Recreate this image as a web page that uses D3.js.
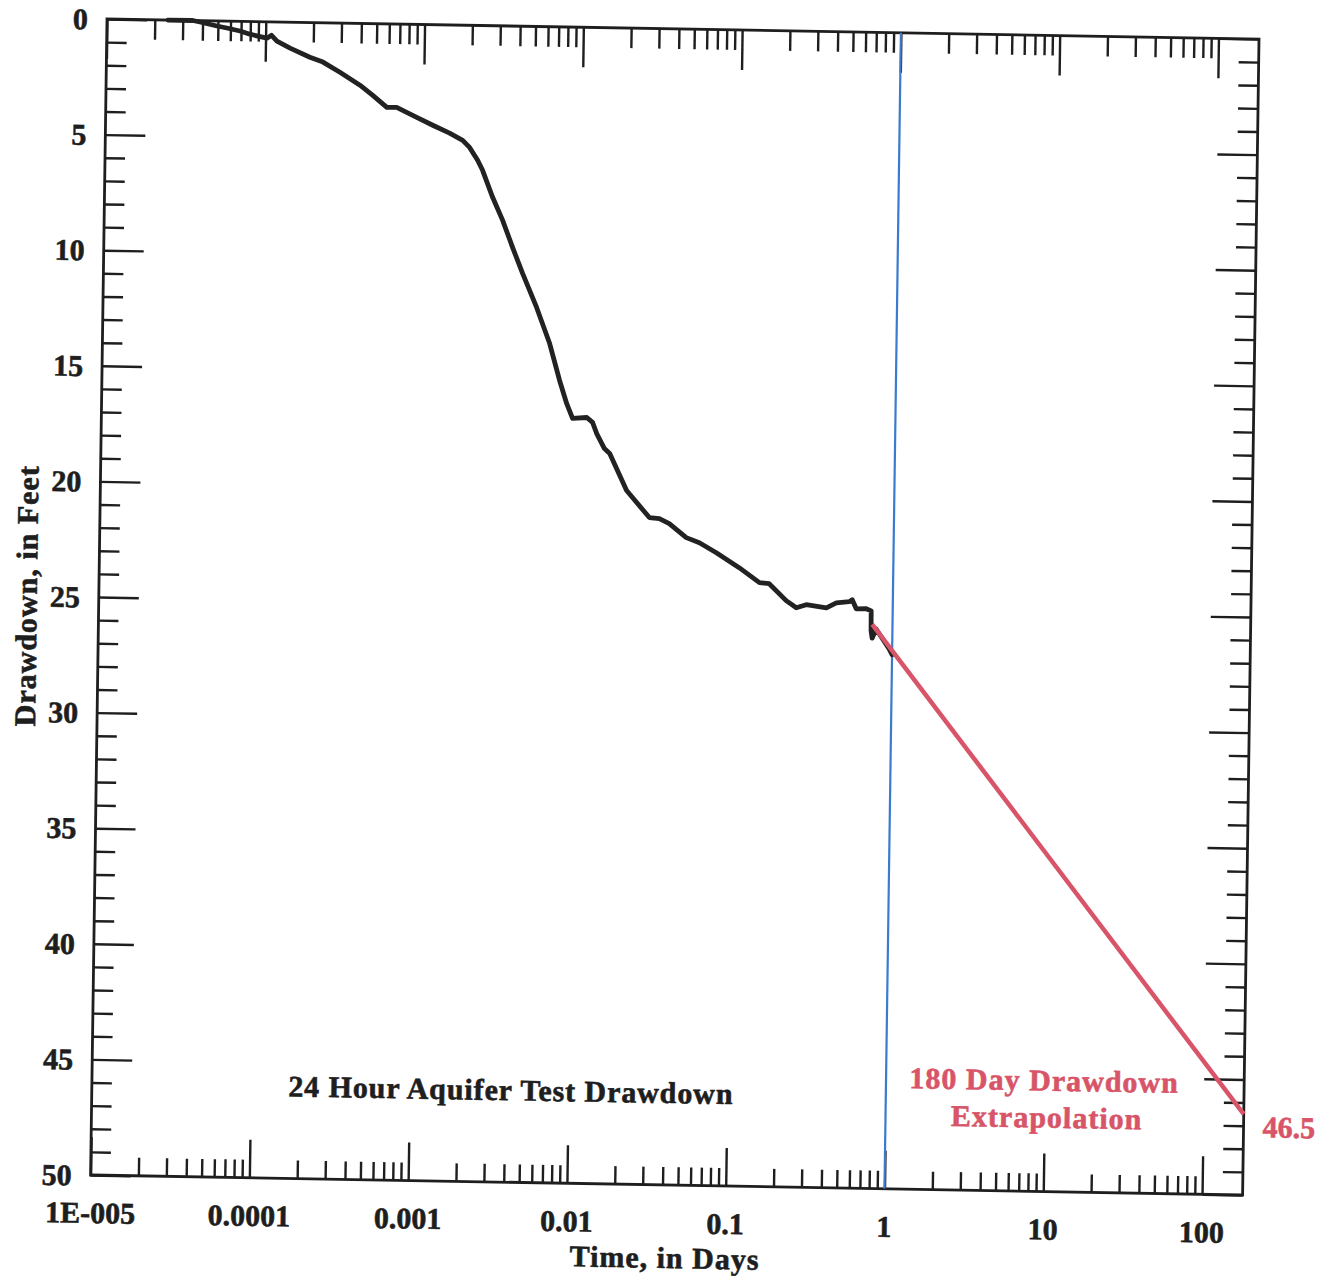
<!DOCTYPE html>
<html><head><meta charset="utf-8">
<script src="https://cdn.jsdelivr.net/npm/d3@7"></script>
<style>
body{margin:0;background:#fff}
text{font-family:"Liberation Serif","Times New Roman",serif;font-weight:bold}
</style>
</head><body>
<svg id="c" width="1330" height="1279"></svg>
<script>
// ---- data ----
const timeDays = [2.42e-5, 3.47e-5, 3.85e-5, 4.93e-5, 5.69e-5, 6.89e-5, 7.96e-5, 1.02e-4, 1.09e-4, 1.18e-4,
  1.43e-4, 1.91e-4, 2.31e-4, 2.96e-4, 3.97e-4, 4.79e-4, 5.89e-4, 6.79e-4, 9.1e-4, 1.15e-3,
  1.47e-3, 1.78e-3, 1.97e-3, 2.22e-3, 2.39e-3, 2.78e-3, 3.23e-3, 3.75e-3, 4.36e-3, 5.38e-3,
  6.55e-3, 7.62e-3, 8.48e-3, 9.27e-3, 1.14e-2, 1.24e-2, 1.32e-2, 1.48e-2, 1.60e-2, 2.06e-2,
  2.88e-2, 3.33e-2, 3.85e-2, 4.94e-2, 5.98e-2, 7.66e-2, 0.107, 0.144, 0.166, 0.213,
  0.247, 0.285, 0.382, 0.441, 0.532, 0.555, 0.589, 0.681, 0.732, 0.734,
  0.746, 0.789, 0.957, 1.0];
const drawdownFt = [0, 0, 0.06, 0.22, 0.30, 0.42, 0.55, 0.71, 0.58, 0.83,
  1.12, 1.50, 1.70, 2.13, 2.67, 3.10, 3.61, 3.60, 4.02, 4.35,
  4.68, 4.98, 5.28, 5.83, 6.26, 7.42, 8.41, 9.57, 10.69, 12.15,
  13.70, 15.29, 16.28, 16.92, 16.87, 17.08, 17.56, 18.20, 18.41, 20.0,
  21.15, 21.19, 21.40, 21.99, 22.20, 22.62, 23.25, 23.88, 23.92, 24.64,
  24.94, 24.80, 24.92, 24.70, 24.64, 24.55, 24.94, 24.93, 25.02, 25.88,
  26.2, 25.8, 26.65, 26.9];
const extrapTime = [0.745, 180];
const extrapDrawdown = [25.6, 46.5];
const pumpEndDay = 1;
const xTickValues = [1e-5, 1e-4, 1e-3, 0.01, 0.1, 1, 10, 100];
const xTickLabels = ["1E-005", "0.0001", "0.001", "0.01", "0.1", "1", "10", "100"];
const yTickValues = [0, 5, 10, 15, 20, 25, 30, 35, 40, 45, 50];
const yTickLabels = ["0", "5", "10", "15", "20", "25", "30", "35", "40", "45", "50"];
const xDomain = [1e-5, 180];
const yDomain = [0, 50];

// ---- layout ----
const W = 1152, H = 1156;
const svg = d3.select("#c");
const g = svg.append("g").attr("transform", "matrix(1,0.0174,-0.0142,1,107,19)");
const x = d3.scaleLog().domain(xDomain).range([0, W]);
const y = d3.scaleLinear().domain(yDomain).range([0, H]);
const ink = "#1e1e1e";

const xMinor = [];
for (let k = -5; k <= 2; k++) for (let m = 2; m <= 9; m++) { const v = m * Math.pow(10, k); if (v < xDomain[1]) xMinor.push(v); }
const yMinor = d3.range(0, 51).filter(v => v % 5 !== 0);

function tickAxis(axis, tf) {
  const a = g.append("g").attr("transform", tf).call(axis);
  a.select(".domain").remove();
  a.selectAll("line").attr("stroke", ink).attr("stroke-width", 2.4);
  a.selectAll("text").remove();
}
tickAxis(d3.axisBottom(x).tickValues(xMinor).tickSize(-18).tickFormat(""), `translate(0,${H})`);
tickAxis(d3.axisBottom(x).tickValues(xTickValues).tickSize(-38).tickFormat(""), `translate(0,${H})`);
tickAxis(d3.axisTop(x).tickValues(xMinor).tickSize(-20).tickFormat(""), "translate(0,0)");
tickAxis(d3.axisTop(x).tickValues(xTickValues).tickSize(-40).tickFormat(""), "translate(0,0)");
tickAxis(d3.axisLeft(y).tickValues(yMinor).tickSize(-20).tickFormat(""), "translate(0,0)");
tickAxis(d3.axisLeft(y).tickValues(yTickValues).tickSize(-40).tickFormat(""), "translate(0,0)");
tickAxis(d3.axisRight(y).tickValues(yMinor).tickSize(-20).tickFormat(""), `translate(${W},0)`);
tickAxis(d3.axisRight(y).tickValues(yTickValues).tickSize(-40).tickFormat(""), `translate(${W},0)`);

g.append("rect").attr("x", 0).attr("y", 0).attr("width", W).attr("height", H)
  .attr("fill", "none").attr("stroke", ink).attr("stroke-width", 2.8);

function boldText(sel, color) {
  return sel.attr("fill", color).attr("stroke", color).attr("stroke-width", 0.6);
}

// tick labels
boldText(g.selectAll(".yl").data(yTickValues).enter().append("text")
  .attr("x", -19).attr("y", d => y(d)).attr("dy", "0.35em")
  .attr("text-anchor", "end").attr("font-size", 30)
  .text((d, i) => yTickLabels[i]), ink);
boldText(g.selectAll(".xl").data(xTickValues).enter().append("text")
  .attr("x", d => x(d)).attr("y", H + 48)
  .attr("text-anchor", "middle").attr("font-size", 30)
  .text((d, i) => xTickLabels[i]), ink);

// axis titles
boldText(g.append("text").attr("x", 575).attr("y", H + 83).attr("text-anchor", "middle")
  .attr("font-size", 30).attr("letter-spacing", 1).text("Time, in Days"), ink);
boldText(g.append("text").attr("transform", `translate(-62,${H / 2}) rotate(-90)`).attr("text-anchor", "middle")
  .attr("font-size", 30).attr("letter-spacing", 1).text("Drawdown, in Feet"), ink);

// blue line at end of pumping
g.append("line").attr("x1", x(pumpEndDay)).attr("x2", x(pumpEndDay)).attr("y1", 0).attr("y2", H)
  .attr("stroke", "#3a7bd0").attr("stroke-width", 2.2);

// drawdown curve
const pts = timeDays.map((t, i) => [t, drawdownFt[i]]);
g.append("path").datum(pts)
  .attr("d", d3.line().x(d => x(d[0])).y(d => y(d[1])))
  .attr("fill", "none").attr("stroke", "#222").attr("stroke-width", 4.8)
  .attr("stroke-linejoin", "round").attr("stroke-linecap", "round");

// extrapolation
const red = "#d85468";
g.append("path").datum(extrapTime.map((t, i) => [t, extrapDrawdown[i]]))
  .attr("d", d3.line().x(d => x(d[0])).y(d => y(d[1])))
  .attr("fill", "none").attr("stroke", red).attr("stroke-width", 4.5);

// annotations
boldText(g.append("text").attr("x", 419).attr("y", 1074).attr("text-anchor", "middle")
  .attr("font-size", 30).attr("letter-spacing", 0.9).text("24 Hour Aquifer Test Drawdown"), ink);
boldText(g.append("text").attr("x", 952).attr("y", 1055).attr("text-anchor", "middle")
  .attr("font-size", 30).attr("letter-spacing", 1).text("180 Day Drawdown"), red);
boldText(g.append("text").attr("x", 955).attr("y", 1092).attr("text-anchor", "middle")
  .attr("font-size", 30).attr("letter-spacing", 1).text("Extrapolation"), red);
boldText(g.append("text").attr("x", 1171).attr("y", 1098).attr("text-anchor", "start")
  .attr("font-size", 30).text(String(extrapDrawdown[1])), red);
</script>
</body></html>
